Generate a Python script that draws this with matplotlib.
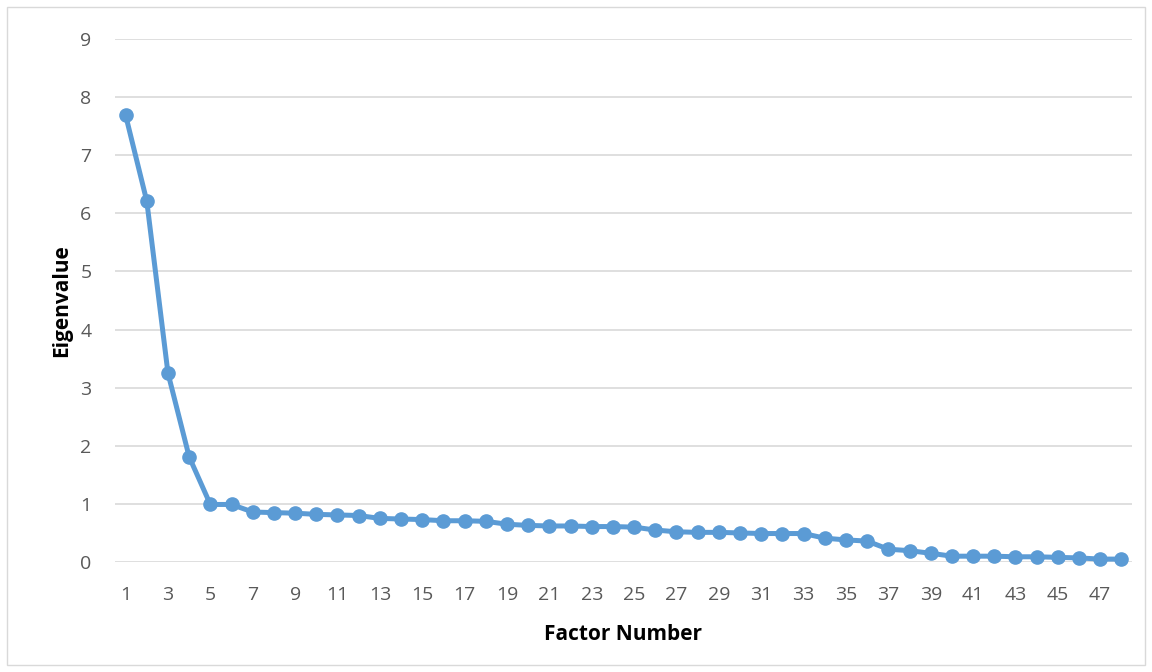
import numpy as np
import matplotlib.pyplot as plt

# Scree plot values
factors = np.arange(1, 49)
eigenvalues = [7.69, 6.21, 3.25, 1.81, 0.99, 0.99, 0.86, 0.85, 0.84, 0.82,
               0.81, 0.80, 0.75, 0.74, 0.73, 0.71, 0.71, 0.70, 0.65, 0.63,
               0.62, 0.62, 0.61, 0.61, 0.60, 0.55, 0.52, 0.51, 0.51, 0.50,
               0.49, 0.49, 0.49, 0.41, 0.38, 0.36, 0.22, 0.195, 0.15, 0.10,
               0.10, 0.10, 0.09, 0.09, 0.08, 0.07, 0.05, 0.05]
xticks = list(range(1, 48, 2))
yticks = list(range(0, 10))

plt.rcParams['font.family'] = ['Open Sans', 'DejaVu Sans']

fig = plt.figure(figsize=(11.52, 6.72), dpi=100)
ax = fig.add_axes([115 / 1152, 1 - 562 / 672, 1017 / 1152, 523 / 672])

# light frame around the whole chart
fig.patches.append(plt.Rectangle((7 / 1152, 7 / 672), 1138 / 1152, 658 / 672,
                                 transform=fig.transFigure, fill=False,
                                 edgecolor='#D9D9D9', linewidth=1))

ax.plot(factors, eigenvalues, color='#5B9BD5', linewidth=3.6, marker='o',
        markersize=9.5, solid_capstyle='round', zorder=3, clip_on=False)

ax.set_xlim(0.5, 48.5)
ax.set_ylim(0, 9)
ax.set_xticks(xticks)
ax.set_yticks(yticks)
ax.grid(axis='y', color='#D9D9D9', linewidth=1.2)
ax.set_axisbelow(True)
for s in ax.spines.values():
    s.set_visible(False)
ax.tick_params(length=0, labelsize=14, colors='#595959')
ax.tick_params(axis='x', pad=17)
ax.tick_params(axis='y', pad=17)

ax.set_xlabel('Factor Number', fontsize=15, fontweight='bold', labelpad=15)
ax.set_ylabel('Eigenvalue', fontsize=15, fontweight='bold', labelpad=6)

fig.savefig('out.png', dpi=100)
